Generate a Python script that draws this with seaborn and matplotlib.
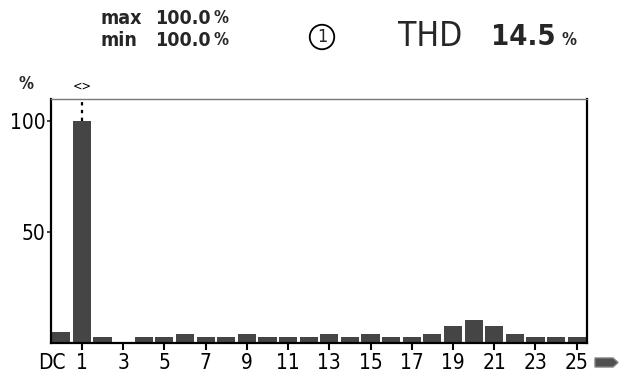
import matplotlib
matplotlib.use("Agg")
import matplotlib.pyplot as plt
from matplotlib.patches import Polygon
from matplotlib.transforms import ScaledTranslation
import seaborn as sns
import pandas as pd

harmonics = ["DC"] + [str(i) for i in range(1, 26)]
values = [5, 100, 2.5, 0, 2.5, 2.5, 4, 2.5, 2.5, 4, 2.5, 2.5, 2.5, 4, 2.5, 4,
          2.5, 2.5, 4, 7.5, 10.4, 7.5, 4, 2.5, 2.5, 2.5]
tick_labels = ["DC", "1", "3", "5", "7", "9", "11", "13", "15", "17", "19", "21", "23", "25"]
y_ticks = [50, 100]

sns.set_theme(style="white")
plt.rcParams["font.family"] = ["DejaVu Sans"]
plt.rcParams["font.stretch"] = "condensed"

df = pd.DataFrame({"h": harmonics, "v": values})
fig = plt.figure(figsize=(6.21, 3.75), dpi=100)
ax = fig.add_axes([51/621, 1 - 343/375, (587-51)/621, (343-99)/375])
sns.barplot(data=df, x="h", y="v", order=harmonics, color="#454545",
            saturation=1, width=0.88, ax=ax, edgecolor="none")
ax.set_xlim(-0.5, 25.5)
ax.set_ylim(0, 110)
ax.set_xlabel("")
ax.set_ylabel("")
pos = [0] + list(range(1, 26, 2))
ax.set_xticks(pos)
ax.set_xticklabels(tick_labels, fontsize=15, color="black")
ax.set_yticks(y_ticks)
ax.set_yticklabels([str(t) for t in y_ticks], fontsize=15, color="black")
ax.tick_params(axis="x", which="both", direction="out", length=5, width=1.5,
               colors="black", pad=2, bottom=True)
ax.tick_params(axis="y", direction="out", length=3, width=1.2, pad=1, left=True)
ax.xaxis.get_major_ticks()[0].tick1line.set_visible(False)
dc = ax.get_xticklabels()[0]
dc.set_transform(dc.get_transform() + ScaledTranslation(-9/100, 0, fig.dpi_scale_trans))
for s in ["left", "bottom", "right"]:
    ax.spines[s].set_color("black")
    ax.spines[s].set_linewidth(1.6)
ax.spines["top"].set_color("#777777")
ax.spines["top"].set_linewidth(1.0)

ax.plot([1, 1], [100, 110], ls=(0, (1.5, 2)), color="black", lw=1.6, clip_on=False)
ax.text(1, 113, "<>", ha="center", va="bottom", fontsize=9, color="black")
fig.text(26/621, 1 - 84/375, "%", ha="center", va="center", fontsize=12, fontweight="bold")

fig.text(101/621, 1 - 18/375, "max", ha="left", va="center", fontsize=14, fontweight="bold")
fig.text(101/621, 1 - 40/375, "min", ha="left", va="center", fontsize=14, fontweight="bold")
fig.text(211/621, 1 - 18/375, "100.0", ha="right", va="center", fontsize=14, fontweight="bold")
fig.text(211/621, 1 - 40/375, "100.0", ha="right", va="center", fontsize=14, fontweight="bold")
fig.text(214/621, 1 - 18/375, "%", ha="left", va="center", fontsize=12, fontweight="bold")
fig.text(214/621, 1 - 40/375, "%", ha="left", va="center", fontsize=12, fontweight="bold")
fig.text(322/621, 1 - 37/375, "1", ha="center", va="center", fontsize=13,
         bbox=dict(boxstyle="circle,pad=0.18", fc="white", ec="black", lw=1.3))
fig.text(398/621, 1 - 37/375, "THD", ha="left", va="center", fontsize=24)
fig.text(556/621, 1 - 37/375, "14.5", ha="right", va="center", fontsize=21, fontweight="bold")
fig.text(562/621, 1 - 40/375, "%", ha="left", va="center", fontsize=12, fontweight="bold")

arrow = Polygon([[595/621, 1 - 358/375], [613/621, 1 - 358/375], [618/621, 1 - 362.5/375],
                 [613/621, 1 - 367/375], [595/621, 1 - 367/375]], closed=True,
                transform=fig.transFigure, fc="#505050", ec="#808080", lw=1)
fig.patches.append(arrow)

fig.savefig("out.png", dpi=100)
